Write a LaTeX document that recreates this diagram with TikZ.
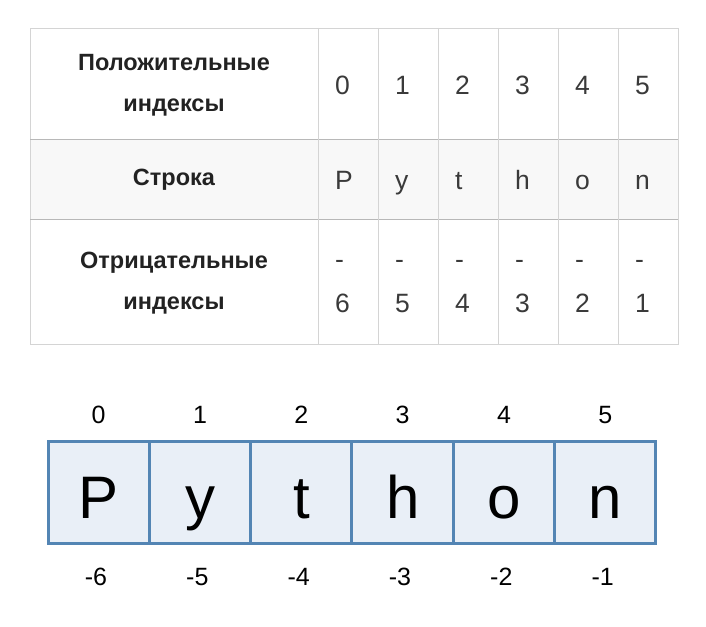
\documentclass[tikz,border=0pt]{standalone}
\usepackage{fontspec}
\setmainfont{Liberation Sans}
\usetikzlibrary{positioning}

\definecolor{gridline}{HTML}{D4D4D4}
\definecolor{rowline}{HTML}{B8B8B8}
\definecolor{rowfill}{HTML}{F8F8F8}
\definecolor{boxfill}{HTML}{E9EFF7}
\definecolor{boxline}{HTML}{5385B4}
\definecolor{headtext}{HTML}{222222}
\definecolor{celltext}{HTML}{3A3A3A}

\tikzset{
    head/.style={font=\fontsize{23.5}{41}\selectfont\bfseries, text=headtext,
	align=center, inner sep=0pt},
    celltxt/.style={font=\fontsize{26.5}{26}\selectfont, text=celltext,
	anchor=base west, inner sep=0pt},
    bigchar/.style={font=\fontsize{60}{60}\selectfont, anchor=base, inner sep=0pt},
    idx/.style={font=\fontsize{25}{25}\selectfont, anchor=base, inner sep=0pt},
    charbox/.style={draw=boxline, fill=boxfill, line width=3pt}
}

\begin{document}
\begin{tikzpicture}[x=1pt, y=-1pt]
    \useasboundingbox (0, 0) rectangle (706, 626);
    \fill[white] (0, 0) rectangle (706, 626);
    \fill[rowfill] (30, 139) rectangle (678, 219);
    \draw[gridline] (30, 28) rectangle (678, 344);
    \draw[rowline] (30, 139) -- (678, 139) (30, 219) -- (678, 219);
    \foreach \x in {318, 378, 438, 498, 558, 618}
	\draw[gridline] (\x, 28) -- (\x, 344);
    \node[head] (poshead) at (174, 85) {Положительные\\индексы};
    \node[head] (strhead) at (174, 180) {Строка};
    \node[head] (neghead) at (174, 283) {Отрицательные\\индексы};
    \foreach \c [count=\i from 0] in {P, y, t, h, o, n} {
	\pgfmathsetmacro{\n}{int(6-\i)}
	\node[celltxt] (pos\i) at (335+60*\i, 94) {\i};
	\node[celltxt] (chr\i) at (335+60*\i, 189) {\c};
	\node[celltxt] (dash\i) at (335+60*\i, 268) {-};
	\node[celltxt] (neg\i) at (335+60*\i, 312) {\n};
    }
    \foreach \c [count=\i from 0] in {P, y, t, h, o, n} {
	\pgfmathsetmacro{\n}{int(\i-6)}
	\draw[charbox] (48+101.33*\i, 441) rectangle +(101.33, 102);
	\node[bigchar] (box\i) at (98.7+101.33*\i, 518) {\c};
	\node[idx] (up\i) at (98.7+101.33*\i, 423) {\i};
	\node[idx] (down\i) at (96+101.33*\i, 585) {\n};
    }
\end{tikzpicture}
\end{document}
